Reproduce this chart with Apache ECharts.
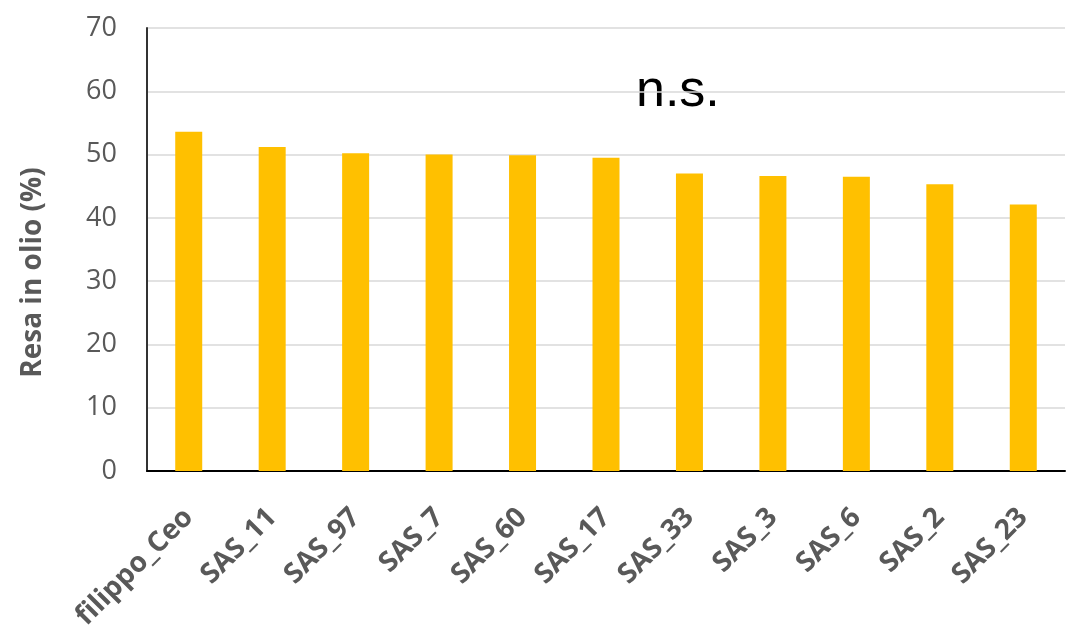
<!DOCTYPE html>
<html>
<head>
<meta charset="utf-8">
<script src="https://cdn.jsdelivr.net/npm/echarts@6/dist/echarts.min.js"></script>
<style>
  html, body { margin: 0; padding: 0; background: #fff; }
  #chart { width: 1070px; height: 627px; }
</style>
</head>
<body>
<div id="chart"></div>
<script>
// dati
const categories = ["filippo_Ceo", "SAS_11", "SAS_97", "SAS_7", "SAS_60", "SAS_17", "SAS_33", "SAS_3", "SAS_6", "SAS_2", "SAS_23"];
const resa = [53.6, 51.2, 50.2, 50.0, 49.9, 49.5, 47.0, 46.6, 46.5, 45.3, 42.1];
const yTicks = [0, 10, 20, 30, 40, 50, 60, 70];

const chart = echarts.init(document.getElementById("chart"));

chart.setOption({
  animation: false,
  grid: { left: 147, right: 5, top: 28, bottom: 156, outerBoundsMode: "none" },
  xAxis: {
    type: "category",
    data: categories,
    axisLine: { show: true, lineStyle: { color: "#000", width: 2 } },
    axisTick: { show: false },
    axisLabel: {
      rotate: 45,
      interval: 0,
      margin: 42,
      color: "#595959",
      fontSize: 28,
      fontWeight: "bold",
      fontFamily: "Open Sans",
    },
  },
  yAxis: {
    type: "value",
    min: yTicks[0],
    max: yTicks[yTicks.length - 1],
    interval: 10,
    name: "Resa in olio (%)",
    nameLocation: "middle",
    nameGap: 100,
    // il titolo nell'originale è un po' più in basso del centro dell'asse
    nameTextStyle: { color: "#595959", fontSize: 28, fontWeight: "bold", fontFamily: "Open Sans", padding: [0, 46, 0, 0] },
    axisLine: { show: true, lineStyle: { color: "#333", width: 2 } },
    axisTick: { show: false },
    axisLabel: { color: "#595959", fontSize: 27, margin: 30, fontFamily: "Open Sans" },
    splitLine: { lineStyle: { color: "#d9d9d9", width: 1.5 } },
  },
  series: [
    {
      type: "bar",
      data: resa,
      barWidth: 27,
      itemStyle: { color: "#ffc000" },
    },
  ],
  graphic: [
    {
      type: "text",
      left: 636,
      top: 66,
      style: { text: "n.s.", fontSize: 52, fontFamily: "Liberation Sans", fill: "#000" },
    },
  ],
});
</script>
</body>
</html>
